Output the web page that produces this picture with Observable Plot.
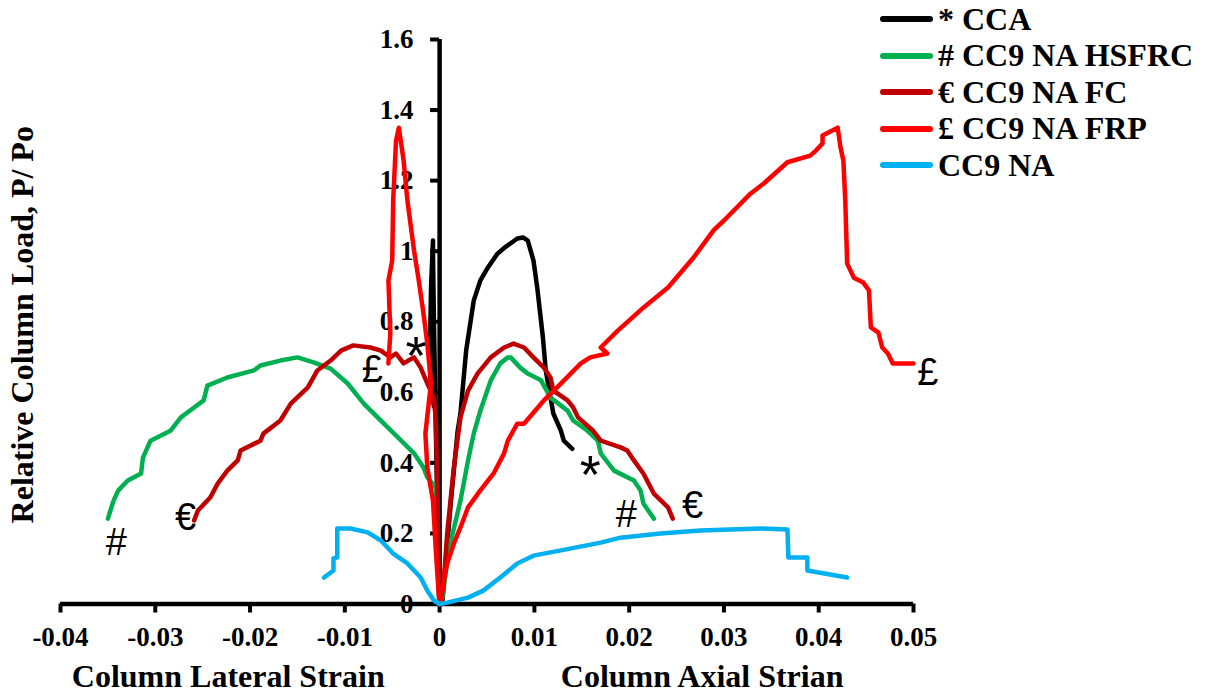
<!DOCTYPE html>
<html>
<head>
<meta charset="utf-8">
<script src="https://cdn.jsdelivr.net/npm/d3@7"></script>
<script src="https://cdn.jsdelivr.net/npm/@observablehq/plot@0.6"></script>
<style>
  html, body { margin: 0; padding: 0; background: #fff; }
  #wrap { position: relative; width: 1212px; height: 694px; }
  #legend { position: absolute; left: 880px; top: 0; font-family: "Liberation Serif", "Times New Roman", serif; font-weight: bold; font-size: 32px; color: #000; }
  .row { position: absolute; left: 0; display: flex; align-items: center; white-space: nowrap; height: 36px; }
  .sw { width: 53px; height: 6px; border-radius: 3px; margin-right: 5px; }
</style>
</head>
<body>
<div id="wrap"><div id="legend"></div></div>
<script>
// Series names and colours (legend order = drawing order)
const seriesNames = ["* CCA", "# CC9 NA HSFRC", "€ CC9 NA FC", "£ CC9 NA FRP", "CC9 NA"];
const seriesColors = ["#000000", "#00B050", "#C00000", "#FF0000", "#00B0F0"];

// [strain, P/Po] pairs; lateral strain is plotted as negative values
const ccaLateral = [[0,0],[-0.0002,0.2],[-0.0004,0.5],[-0.0006,0.8],[-0.0007,1.0],[-0.0007,1.03],[-0.0009,0.9],[-0.0010,0.75],[-0.0010,0.65],[-0.0008,0.6],[-0.0006,0.56]];
const ccaAxial = [[0,0],[0.0003,0.01],[0.0012,0.293],[0.0019,0.49],[0.0022,0.54],[0.0028,0.718],[0.0036,0.86],[0.0043,0.917],[0.0051,0.954],[0.0061,0.993],[0.0070,1.013],[0.0082,1.036],[0.0088,1.039],[0.0093,1.03],[0.0099,0.974],[0.0103,0.897],[0.0109,0.755],[0.0112,0.662],[0.0117,0.585],[0.0120,0.54],[0.0128,0.491],[0.0131,0.463],[0.0140,0.44]];

const hsfrcLateral = [[0,0],[-0.0001,0.03],[-0.0002,0.18],[-0.0004,0.33],[-0.0013,0.359],[-0.0017,0.387],[-0.0027,0.427],[-0.0044,0.472],[-0.0062,0.52],[-0.0080,0.568],[-0.0097,0.625],[-0.0115,0.667],[-0.0133,0.685],[-0.0150,0.699],[-0.0168,0.69],[-0.0189,0.676],[-0.0196,0.662],[-0.0224,0.642],[-0.0245,0.619],[-0.0249,0.577],[-0.0259,0.557],[-0.0273,0.529],[-0.0284,0.491],[-0.0305,0.463],[-0.0313,0.415],[-0.0315,0.37],[-0.0329,0.35],[-0.0339,0.322],[-0.0344,0.293],[-0.0350,0.242]];
const hsfrcAxial = [[0,0],[0.0003,0.02],[0.0008,0.12],[0.0012,0.18],[0.0022,0.293],[0.0030,0.407],[0.0036,0.483],[0.0043,0.548],[0.0054,0.634],[0.0064,0.682],[0.0072,0.699],[0.0075,0.699],[0.0085,0.67],[0.0093,0.653],[0.0107,0.634],[0.0117,0.585],[0.0135,0.548],[0.0141,0.52],[0.0156,0.491],[0.0167,0.463],[0.0170,0.427],[0.0184,0.378],[0.0205,0.35],[0.0212,0.322],[0.0215,0.285],[0.0226,0.242]];

const fcLateral = [[0,0],[-0.0001,0.058],[-0.0002,0.293],[-0.0004,0.52],[-0.0006,0.585],[-0.0013,0.625],[-0.0020,0.67],[-0.0027,0.699],[-0.0033,0.69],[-0.0038,0.682],[-0.0046,0.71],[-0.0052,0.699],[-0.0062,0.718],[-0.0073,0.727],[-0.0091,0.733],[-0.0104,0.718],[-0.0115,0.69],[-0.0129,0.662],[-0.0139,0.614],[-0.0157,0.568],[-0.0168,0.52],[-0.0186,0.483],[-0.0189,0.463],[-0.0210,0.435],[-0.0213,0.407],[-0.0224,0.378],[-0.0234,0.342],[-0.0242,0.302],[-0.0255,0.265],[-0.0259,0.237]];
const fcAxial = [[0,0],[0.0004,0.047],[0.0008,0.2],[0.0015,0.387],[0.0022,0.529],[0.0030,0.605],[0.0040,0.653],[0.0054,0.699],[0.0068,0.727],[0.0078,0.738],[0.0089,0.727],[0.0099,0.699],[0.0110,0.67],[0.0117,0.642],[0.0120,0.605],[0.0135,0.577],[0.0141,0.557],[0.0146,0.529],[0.0162,0.491],[0.0170,0.463],[0.0191,0.444],[0.0198,0.435],[0.0205,0.407],[0.0215,0.37],[0.0226,0.313],[0.0241,0.274],[0.0246,0.242]];

const frpLateral = [[0,0],[-0.0001,0.03],[-0.0004,0.152],[-0.0007,0.293],[-0.0013,0.387],[-0.0015,0.483],[-0.0011,0.58],[-0.0009,0.625],[-0.0013,0.738],[-0.0017,0.823],[-0.0022,0.917],[-0.0027,1.002],[-0.0034,1.144],[-0.0038,1.257],[-0.0043,1.35],[-0.0046,1.313],[-0.0049,1.144],[-0.0050,0.974],[-0.0054,0.917],[-0.0052,0.767],[-0.0054,0.682]];
const frpAxial = [[0,0],[0.0001,0.018],[0.0008,0.115],[0.0015,0.171],[0.0022,0.217],[0.0030,0.274],[0.0043,0.322],[0.0057,0.37],[0.0068,0.427],[0.0072,0.463],[0.0082,0.511],[0.0089,0.511],[0.0110,0.577],[0.0124,0.614],[0.0149,0.682],[0.0159,0.699],[0.0177,0.71],[0.0170,0.727],[0.0188,0.775],[0.0215,0.84],[0.0241,0.897],[0.0268,0.982],[0.0289,1.059],[0.0300,1.087],[0.0328,1.163],[0.0342,1.192],[0.0367,1.252],[0.0391,1.271],[0.0397,1.285],[0.0404,1.305],[0.0404,1.328],[0.0420,1.35],[0.0423,1.294],[0.0426,1.257],[0.0428,1.144],[0.0430,0.965],[0.0437,0.925],[0.0447,0.911],[0.0453,0.889],[0.0455,0.784],[0.0463,0.769],[0.0467,0.727],[0.0473,0.71],[0.0478,0.682],[0.0500,0.682]];

const naLateral = [[0,0],[-0.0006,0.01],[-0.0013,0.038],[-0.0020,0.075],[-0.0034,0.115],[-0.0049,0.143],[-0.0062,0.18],[-0.0076,0.203],[-0.0094,0.214],[-0.0108,0.214],[-0.0108,0.132],[-0.0112,0.129],[-0.0112,0.095],[-0.0122,0.075]];
const naAxial = [[0,0],[0.0008,0.004],[0.0030,0.018],[0.0046,0.038],[0.0064,0.075],[0.0082,0.115],[0.0099,0.137],[0.0128,0.152],[0.0170,0.174],[0.0191,0.188],[0.0233,0.2],[0.0275,0.208],[0.0339,0.214],[0.0367,0.211],[0.0368,0.132],[0.0388,0.132],[0.0388,0.095],[0.0430,0.075]];

// Curve-end markers
const markerText = ["£", "*", "#", "€", "*", "#", "€", "£"];
const markerX = [-0.0071, -0.0025, -0.0341, -0.0268, 0.0159, 0.0197, 0.0267, 0.0515];
const markerY = [0.665, 0.700, 0.174, 0.245, 0.365, 0.254, 0.279, 0.656];

// Axes
const xTicks = [-0.04, -0.03, -0.02, -0.01, 0, 0.01, 0.02, 0.03, 0.04, 0.05];
const xTickLabels = ["-0.04", "-0.03", "-0.02", "-0.01", "0", "0.01", "0.02", "0.03", "0.04", "0.05"];
const yTicks = [0, 0.2, 0.4, 0.6, 0.8, 1, 1.2, 1.4, 1.6];
const yTickLabels = ["0", "0.2", "0.4", "0.6", "0.8", "1", "1.2", "1.4", "1.6"];
const xTitles = ["Column Lateral Strain", "Column Axial Strian"];
const xTitleAt = [-0.0223, 0.0277];
const yTitle = "Relative Column Load, P/ Po";

const branches = [
  [0, "lateral", ccaLateral], [0, "axial", ccaAxial],
  [1, "lateral", hsfrcLateral], [1, "axial", hsfrcAxial],
  [2, "lateral", fcLateral], [2, "axial", fcAxial],
  [3, "lateral", frpLateral], [3, "axial", frpAxial],
  [4, "lateral", naLateral], [4, "axial", naAxial]
];
const rows = [];
for (const [s, branch, pts] of branches) {
  for (const [strain, load] of pts) rows.push({series: seriesNames[s], branch, strain, load});
}
const markers = markerText.map((t, i) => ({t, x: markerX[i], y: markerY[i]}));
const titles = xTitles.map((t, i) => ({t, x: xTitleAt[i]}));

const serif = "Liberation Serif, Times New Roman, serif";
const marginLeft = 60;

const chart = Plot.plot({
  width: 1212,
  height: 694,
  marginLeft,
  marginRight: 299,
  marginTop: 39,
  marginBottom: 90.5,
  style: {fontFamily: serif, fontWeight: "bold", fontSize: "27px", background: "#fff", overflow: "visible"},
  x: {domain: [-0.04, 0.05], label: null},
  y: {domain: [0, 1.6], label: null},
  color: {domain: seriesNames, range: seriesColors},
  marks: [
    Plot.axisX(xTicks, {anchor: "bottom", tickSize: 9, tickPadding: 14, strokeWidth: 4, label: null,
      tickFormat: d => xTickLabels[xTicks.indexOf(d)]}),
    Plot.axisY(yTicks, {anchor: "left", tickSize: 9, tickPadding: 17, strokeWidth: 4, label: null,
      tickFormat: d => yTickLabels[yTicks.indexOf(d)]}),
    Plot.ruleY([0], {stroke: "#000", strokeWidth: 4.5}),
    Plot.ruleX([0], {stroke: "#000", strokeWidth: 4.5}),
    Plot.line(rows, {x: "strain", y: "load", z: d => d.series + "|" + d.branch, stroke: "series",
      strokeWidth: 4.5, strokeLinejoin: "round", strokeLinecap: "round", curve: "linear"}),
    Plot.text(markers, {x: "x", y: "y", text: "t", fontFamily: "Liberation Sans, Arial, sans-serif",
      fontWeight: "normal", fontSize: d => d.t === "*" ? 54 : 38, fill: "#000"}),
    Plot.text(titles, {x: "x", text: "t", frameAnchor: "bottom", lineAnchor: "middle", dy: 73,
      fontSize: 32, fontWeight: "bold", fontFamily: serif}),
    Plot.text([yTitle], {frameAnchor: "left", textAnchor: "middle", lineAnchor: "middle", dx: -38, dy: 3,
      rotate: -90, fontSize: 32, fontWeight: "bold", fontFamily: serif})
  ]
});

// Place the y-axis ticks and labels on the x = 0 line
const shift = chart.scale("x").apply(0) - marginLeft;
chart.querySelectorAll('g[aria-label="y-axis tick"], g[aria-label="y-axis tick label"]').forEach(g => {
  g.setAttribute("transform", `translate(${shift},0) ${g.getAttribute("transform") || ""}`);
});

const wrap = document.getElementById("wrap");
wrap.insertBefore(chart, wrap.firstChild);

// Legend
const legend = document.getElementById("legend");
seriesNames.forEach((name, i) => {
  const row = document.createElement("div");
  row.className = "row";
  row.style.top = (1 + i * 36.5) + "px";
  const sw = document.createElement("div");
  sw.className = "sw";
  sw.style.background = seriesColors[i];
  const label = document.createElement("span");
  label.textContent = name;
  row.appendChild(sw);
  row.appendChild(label);
  legend.appendChild(row);
});
</script>
</body>
</html>
